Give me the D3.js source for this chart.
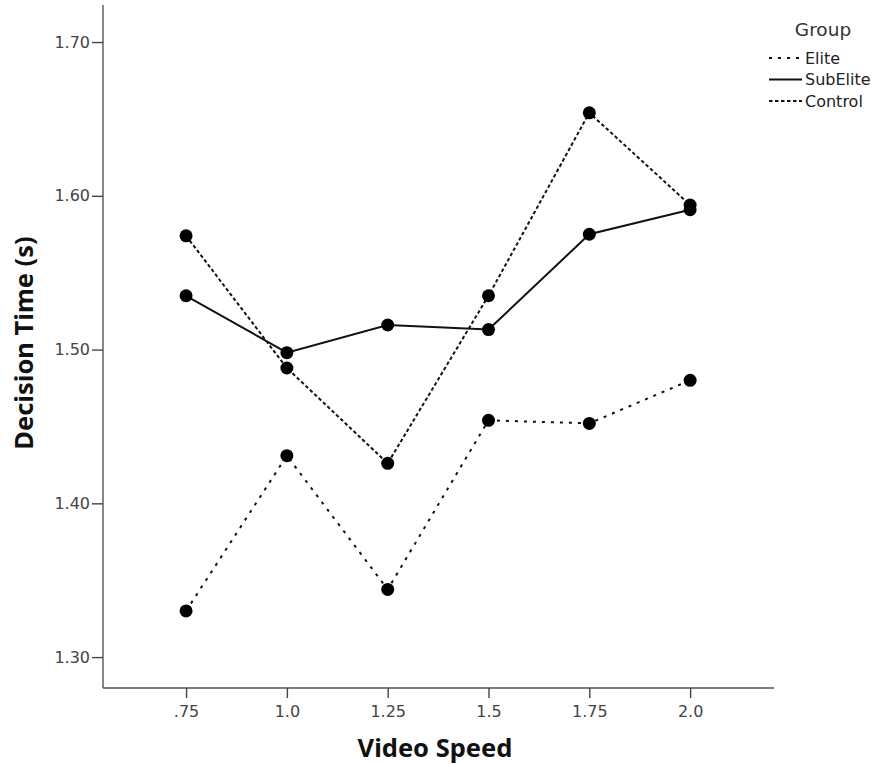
<!DOCTYPE html>
<html>
<head>
<meta charset="utf-8">
<script src="https://cdn.jsdelivr.net/npm/d3@7"></script>
<style>
  body { margin: 0; background: #fff; }
  .tick text { font-family: "DejaVu Sans", sans-serif; font-size: 16px; fill: #444; }
</style>
</head>
<body>
<script>
var speeds = [0.75, 1.0, 1.25, 1.5, 1.75, 2.0];
var speedLabels = [".75", "1.0", "1.25", "1.5", "1.75", "2.0"];
var yTicks = [1.30, 1.40, 1.50, 1.60, 1.70];

var groups = ["Elite", "SubElite", "Control"];
var elite = [1.330, 1.431, 1.344, 1.454, 1.452, 1.480];
var subElite = [1.535, 1.498, 1.516, 1.513, 1.575, 1.591];
var control = [1.574, 1.488, 1.426, 1.535, 1.654, 1.594];

var dashes = { "Elite": "3,6", "SubElite": null, "Control": "3.5,2.5" };

var width = 877, height = 764;
var plotLeft = 103, plotRight = 774, plotTop = 5, plotBottom = 688;

var svg = d3.select("body").append("svg")
    .attr("width", width)
    .attr("height", height);

var x = d3.scaleLinear().domain([0.544, 2.208]).range([plotLeft, plotRight]);
var y = d3.scaleLinear().domain([1.2799, 1.7241]).range([plotBottom, plotTop]);

var xAxis = svg.append("g")
    .attr("transform", "translate(0," + plotBottom + ")")
    .call(d3.axisBottom(x).tickValues(speeds).tickSize(10).tickPadding(8)
      .tickFormat(function(d, i){ return speedLabels[i]; }));
var yAxis = svg.append("g")
    .attr("transform", "translate(" + plotLeft + ",0)")
    .call(d3.axisLeft(y).tickValues(yTicks).tickSize(11).tickPadding(2)
      .tickFormat(d3.format(".2f")));

svg.selectAll(".domain").attr("stroke", "#555").attr("stroke-width", 1.4);
xAxis.select(".domain").attr("d", "M" + plotLeft + ",0H" + plotRight);
yAxis.select(".domain").attr("d", "M0," + plotTop + "V" + plotBottom);
svg.selectAll(".tick line").attr("stroke", "#444").attr("stroke-width", 1.4);

svg.append("text")
    .attr("x", 435)
    .attr("y", 757)
    .attr("text-anchor", "middle")
    .style("font-family", "'Noto Sans', sans-serif")
    .style("font-weight", "bold")
    .style("font-size", "25.5px")
    .style("fill", "#111")
    .text("Video Speed");

svg.append("text")
    .attr("transform", "translate(33,343) rotate(-90)")
    .attr("text-anchor", "middle")
    .style("font-family", "'Noto Sans', sans-serif")
    .style("font-weight", "bold")
    .style("font-size", "25.5px")
    .style("fill", "#111")
    .text("Decision Time (s)");

var series = [
  { name: "Elite", values: elite },
  { name: "SubElite", values: subElite },
  { name: "Control", values: control }
];

var line = d3.line()
  .x(function(d, i){ return x(speeds[i]); })
  .y(function(d){ return y(d); });

svg.selectAll(".series")
  .data(series)
  .enter().append("path")
    .attr("class", "series")
    .attr("d", function(d){ return line(d.values); })
    .attr("fill", "none")
    .attr("stroke", "#111")
    .attr("stroke-width", 2)
    .attr("stroke-dasharray", function(d){ return dashes[d.name]; });

series.forEach(function(s){
  svg.selectAll(".dot-" + s.name)
    .data(s.values)
    .enter().append("circle")
      .attr("cx", function(d, i){ return x(speeds[i]); })
      .attr("cy", function(d){ return y(d); })
      .attr("r", 6.5)
      .attr("fill", "#000");
});

// legend
var legend = svg.append("g").attr("transform", "translate(769,0)");
legend.append("text")
    .attr("x", 54).attr("y", 36)
    .attr("text-anchor", "middle")
    .style("font-family", "'DejaVu Sans', sans-serif")
    .style("font-size", "18.5px")
    .style("fill", "#333")
    .text("Group");

var item = legend.selectAll(".item")
  .data(groups)
  .enter().append("g")
    .attr("transform", function(d, i){ return "translate(0," + (58 + i * 21.5) + ")"; });
item.append("line")
    .attr("x1", 0).attr("x2", 33)
    .attr("stroke", "#111").attr("stroke-width", 2)
    .attr("stroke-dasharray", function(d){ return dashes[d]; });
item.append("text")
    .attr("x", 36).attr("dy", "0.35em")
    .style("font-family", "'DejaVu Sans', sans-serif")
    .style("font-size", "16px")
    .style("fill", "#222")
    .text(function(d){ return d; });
</script>
</body>
</html>
